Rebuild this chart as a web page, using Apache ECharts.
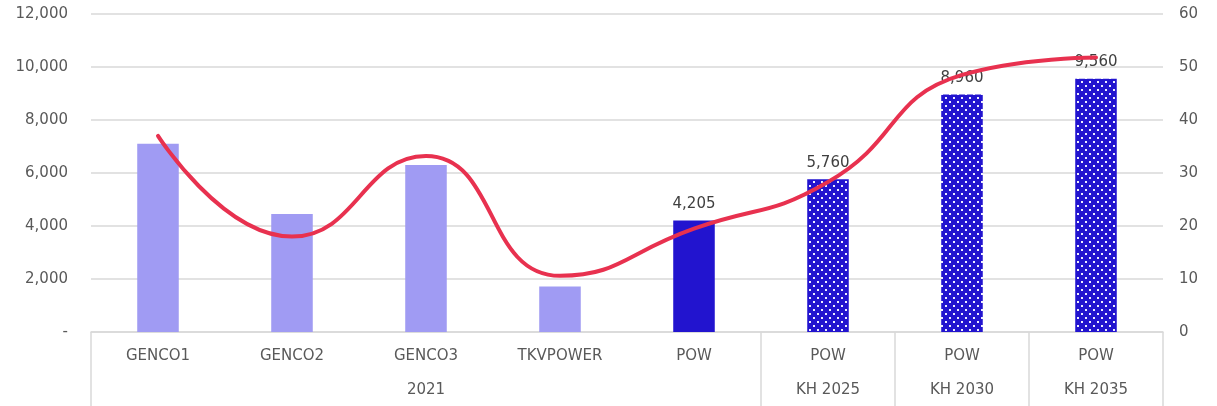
<!DOCTYPE html>
<html>
<head>
<meta charset="utf-8">
<script src="https://cdn.jsdelivr.net/npm/echarts@6/dist/echarts.min.js"></script>
<style>
  html, body { margin: 0; padding: 0; background: #fff; }
  #chart { width: 1217px; height: 406px; }
</style>
</head>
<body>
<div id="chart"></div>
<script>
// categories and the two rows of axis labels
var categories = ['GENCO1', 'GENCO2', 'GENCO3', 'TKVPOWER', 'POW', 'POW KH 2025', 'POW KH 2030', 'POW KH 2035']
var nameRow = ['GENCO1', 'GENCO2', 'GENCO3', 'TKVPOWER', 'POW', 'POW', 'POW', 'POW']
var groupRow = ['', '', '2021', '', '', 'KH 2025', 'KH 2030', 'KH 2035']
var groupStarts = [0, 5, 6, 7]

// values
var capacity = [7100, 4450, 6300, 1720, 4205, 5760, 8960, 9560] // left axis
var ratio = [37, 18, 33.2, 10.6, 19.5, 28.3, 48.5, 51.8] // right axis

var leftTicks = { min: 0, max: 12000, interval: 2000 }
var rightTicks = { min: 0, max: 60, interval: 10 }

var LIGHT = '#a09bf3'
var DARK = '#2214cf'
var GRID = '#d9d9d9'
var TEXT = '#595959'
var FONT = 'DejaVu Sans'

// white dotted fill for the plan bars
function dotPattern() {
  var c = document.createElement('canvas')
  c.width = 8
  c.height = 8
  var ctx = c.getContext('2d')
  ctx.fillStyle = DARK
  ctx.fillRect(0, 0, 8, 8)
  ctx.fillStyle = '#eeeeff'
  ctx.fillRect(1, 1, 2, 2)
  ctx.fillRect(5, 5, 2, 2)
  return c
}
var pattern = { image: dotPattern(), repeat: 'repeat' }

function fmt(v) {
  return v === 0 ? '-' : v.toLocaleString('en-US')
}

var barData = capacity.map(function(v, i) {
  return {
    value: v,
    itemStyle: { color: i < 4 ? LIGHT : (i === 4 ? DARK : pattern) },
    label: { show: i >= 4 }
  }
})

var chart = echarts.init(document.getElementById('chart'))
chart.setOption({
  animation: false,
  grid: { left: 91, right: 54, top: 14, bottom: 74 },
  xAxis: [
    {
      type: 'category',
      data: categories,
      axisLine: { lineStyle: { color: GRID, width: 1.5 } },
      axisTick: { show: false },
      axisLabel: {
        interval: 0,
        margin: 7,
        formatter: function(v, i) {
          return '{a|' + nameRow[i] + '}\n{a|' + (groupRow[i] || ' ') + '}'
        },
        rich: {
          a: { fontFamily: FONT, fontSize: 15, color: TEXT, lineHeight: 34 }
        }
      }
    },
    {
      // second axis only draws the group separators
      type: 'category',
      data: categories,
      position: 'bottom',
      axisLine: { show: false },
      axisLabel: { show: false },
      axisTick: {
        show: true,
        alignWithLabel: false,
        length: 74,
        lineStyle: { color: GRID, width: 1.5 },
        interval: function(index) {
          return groupStarts.indexOf(index) >= 0 || index === categories.length
        }
      }
    }
  ],
  yAxis: [
    {
      type: 'value',
      min: leftTicks.min,
      max: leftTicks.max,
      interval: leftTicks.interval,
      axisLine: { show: false },
      axisTick: { show: false },
      splitLine: { lineStyle: { color: GRID, width: 1.5 } },
      axisLabel: { margin: 23, fontFamily: FONT, fontSize: 15, color: TEXT, formatter: fmt }
    },
    {
      type: 'value',
      min: rightTicks.min,
      max: rightTicks.max,
      interval: rightTicks.interval,
      axisLine: { show: false },
      axisTick: { show: false },
      splitLine: { show: false },
      axisLabel: { margin: 16, fontFamily: FONT, fontSize: 15, color: TEXT }
    }
  ],
  series: [
    {
      type: 'bar',
      data: barData,
      barWidth: '31%',
      label: {
        position: 'top',
        distance: 9,
        fontFamily: FONT,
        fontSize: 15,
        color: '#404040',
        formatter: function(p) { return fmt(p.value) }
      }
    },
    {
      type: 'line',
      yAxisIndex: 1,
      data: ratio,
      smooth: 0.5,
      symbol: 'none',
      z: 5,
      lineStyle: { color: '#e8314f', width: 4, cap: 'round' }
    }
  ]
})
</script>
</body>
</html>
